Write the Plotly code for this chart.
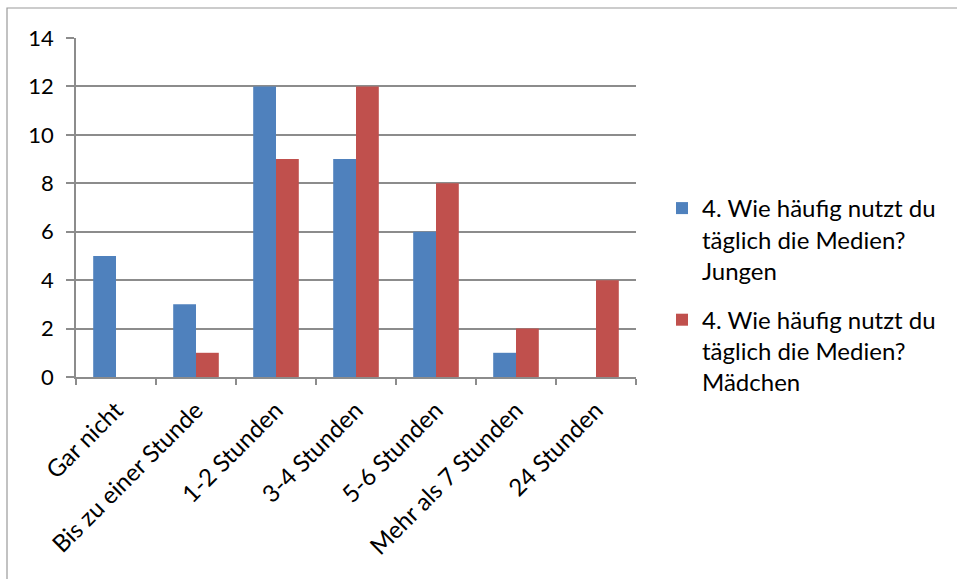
import plotly.graph_objects as go

categories = ["Gar nicht", "Bis zu einer Stunde", "1-2 Stunden", "3-4 Stunden",
              "5-6 Stunden", "Mehr als 7 Stunden", "24 Stunden"]
jungen = [5, 3, 12, 9, 6, 1, 0]
maedchen = [0, 1, 9, 12, 8, 2, 4]
name_j = "4. Wie häufig nutzt du<br>täglich die Medien?<br>Jungen"
name_m = "4. Wie häufig nutzt du<br>täglich die Medien?<br>Mädchen"

W, H = 957, 579
L, R, T, B = 76, 636, 38, 377
pw, ph = R - L, B - T

def px_x(p):
    return (p - L) / pw

def px_y(p):
    return (B - p) / ph

FONT = "Lato, 'Open Sans', sans-serif"
GRID = "#8c8c8c"

fig = go.Figure()
fig.add_trace(go.Bar(x=categories, y=jungen, name=name_j, marker_color="#4F81BD",
                     marker_line_width=0, legendgroup="j"))
fig.add_trace(go.Bar(x=categories, y=maedchen, name=name_m, marker_color="#C0504D",
                     marker_line_width=0, legendgroup="m"))

fig.update_layout(
    width=W, height=H,
    margin=dict(l=L, r=W - R, t=T, b=H - B, autoexpand=False),
    paper_bgcolor="white", plot_bgcolor="white",
    barmode="group", bargap=0.43, bargroupgap=0,
    font=dict(family=FONT, size=24, color="#000000"),
    legend=dict(x=px_x(662), y=px_y(186), xanchor="left", yanchor="top",
                font=dict(family=FONT, size=24, color="#000000"),
                tracegroupgap=15, valign="top", bgcolor="rgba(0,0,0,0)"),
    shapes=[dict(type="rect", xref="paper", yref="paper",
                 x0=px_x(7), x1=px_x(962), y0=px_y(8), y1=px_y(600),
                 line=dict(color="#9a9a9a", width=1.2), layer="below")],
)
fig.update_yaxes(range=[0, 14], dtick=2, showgrid=True, gridcolor=GRID, gridwidth=1.5,
                 showline=True, linecolor=GRID, linewidth=1.5,
                 ticks="outside", ticklen=8, tickcolor=GRID, tickwidth=1.5,
                 zeroline=False, tickfont=dict(size=22), ticklabelstandoff=8)
fig.update_xaxes(type="category", showline=True, linecolor=GRID, linewidth=1.5,
                 ticks="outside", tickson="boundaries", ticklen=6, tickcolor=GRID,
                 tickwidth=1.5, tickangle=-45, tickfont=dict(size=24),
                 ticklabelstandoff=8)

fig.write_html("out.html", config={"displayModeBar": False},
               post_script="document.body.style.margin='0';document.body.style.overflow='hidden';")
